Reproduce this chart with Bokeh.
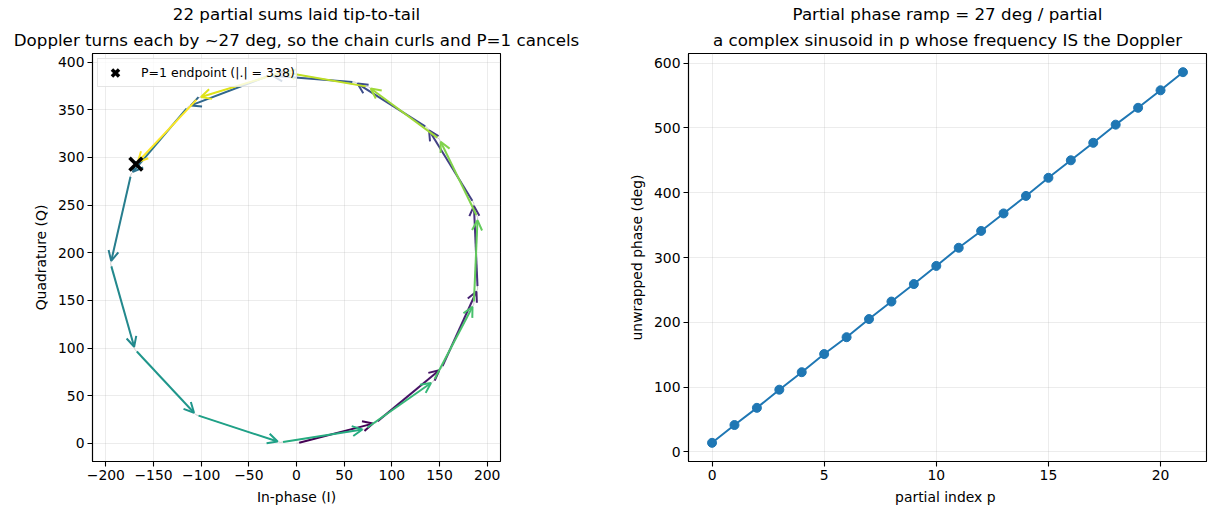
import math

from bokeh.embed import file_html
from bokeh.layouts import row
from bokeh.models import (Arrow, FixedTicker, Legend, LegendItem, OpenHead,
                          Range1d, Title)
from bokeh.palettes import Viridis256
from bokeh.plotting import figure
from bokeh.resources import INLINE

# ---- data -------------------------------------------------------------
# complex value of each partial sum (I, Q), p = 0..21
partial_i = [83.0, 69.0, 38.0, -4.0, -48.5, -76.0, -89.5, -85.5, -60.0, -21.5, 25.5,
             64.0, 88.5, 89.0, 71.5, 42.5, 4.0, -40.0, -74.5, -90.0, -88.5, -65.5]
partial_q = [21.5, 57.0, 83.5, 90.0, 79.0, 48.0, 7.0, -32.5, -71.0, -94.0, -90.0,
             -68.5, -29.0, 14.0, 50.0, 81.0, 91.0, 82.0, 55.0, 15.5, -27.0, -69.5]

# unwrapped phase of each partial (deg)
partial_index = list(range(22))
phase_deg = [14, 41.5, 68, 96, 123, 151, 177, 205, 232, 259, 287,
             315, 341, 368, 395, 423, 450, 477, 505, 531, 558, 586]

iq_xticks = [-200, -150, -100, -50, 0, 50, 100, 150, 200]
iq_yticks = [0, 50, 100, 150, 200, 250, 300, 350, 400]
ph_xticks = [0, 5, 10, 15, 20]
ph_yticks = [0, 100, 200, 300, 400, 500, 600]

FONT = "DejaVu Sans"
TICK_PX = "13.9px"
TITLE_PX = "16.7px"
BLUE = "#1f77b4"


def minus(v):
    return f"{v:g}".replace("-", "\u2212")


def style_axes(p, xticks, yticks):
    p.outline_line_color = "black"
    p.outline_line_width = 1.1
    p.background_fill_color = "white"
    p.border_fill_color = "white"
    for ax, ticks in ((p.xaxis[0], xticks), (p.yaxis[0], yticks)):
        ax.ticker = FixedTicker(ticks=ticks)
        ax.major_label_overrides = {t: minus(t) for t in ticks}
        ax.axis_line_color = "black"
        ax.axis_line_width = 1.1
        ax.major_tick_line_color = "black"
        ax.major_tick_line_width = 1.1
        ax.major_tick_out = 5
        ax.major_tick_in = 0
        ax.minor_tick_line_color = None
        ax.major_label_text_font = FONT
        ax.major_label_text_font_size = TICK_PX
        ax.major_label_text_color = "black"
        ax.major_label_standoff = 3
        ax.axis_label_text_font = FONT
        ax.axis_label_text_font_size = TICK_PX
        ax.axis_label_text_font_style = "normal"
        ax.axis_label_text_color = "black"
        ax.axis_label_standoff = 6
    p.xgrid.ticker = FixedTicker(ticks=xticks)
    p.ygrid.ticker = FixedTicker(ticks=yticks)
    p.grid.grid_line_color = "#b0b0b0"
    p.grid.grid_line_alpha = 0.3
    p.grid.grid_line_width = 0.8


def add_titles(p, lines):
    # the first title added sits closest to the frame
    for k, txt in enumerate(reversed(lines)):
        p.add_layout(Title(text=txt, align="center", text_font=FONT,
                           text_font_size=TITLE_PX, text_font_style="normal",
                           text_color="black", standoff=8 if k == 0 else 0), "above")


# ---- left: phasor chain ----------------------------------------------
left = figure(width=600, height=515, x_range=Range1d(-214, 214), y_range=Range1d(-19, 409),
              output_backend="svg", toolbar_location=None,
              min_border_left=92, min_border_right=100, min_border_top=53, min_border_bottom=54)
style_axes(left, iq_xticks, iq_yticks)
left.xaxis.axis_label = "In-phase (I)"
left.yaxis.axis_label = "Quadrature (Q)"
add_titles(left, ["22 partial sums laid tip-to-tail",
                  "Doppler turns each by ~27 deg, so the chain curls and P=1 cancels"])

chain_i = [0.0]
chain_q = [0.0]
for di, dq in zip(partial_i, partial_q):
    chain_i.append(chain_i[-1] + di)
    chain_q.append(chain_q[-1] + dq)

left.line(chain_i, chain_q, line_color="#cccccc", line_width=1)

n = len(partial_i)
px_per_unit = 408 / 428.0
shrink = 2.8 / px_per_unit
for k in range(n):
    color = Viridis256[min(int(k / (n - 1) * 256), 255)]
    x0, y0 = chain_i[k], chain_q[k]
    x1, y1 = chain_i[k + 1], chain_q[k + 1]
    L = math.hypot(x1 - x0, y1 - y0)
    ux, uy = (x1 - x0) / L, (y1 - y0) / L
    left.add_layout(Arrow(
        x_start=x0 + ux * shrink, y_start=y0 + uy * shrink,
        x_end=x1 - ux * shrink, y_end=y1 - uy * shrink,
        line_color=color, line_width=2,
        end=OpenHead(size=10, line_color=color, line_width=2)))

end_i, end_q = chain_i[-1], chain_q[-1]
mag = math.hypot(end_i, end_q)
endpoint = left.scatter([end_i], [end_q], marker="x", size=18, line_color="black",
                        line_width=3.5, level="overlay")
legend = Legend(items=[LegendItem(label=f"P=1 endpoint (|.| = {mag:.0f})", renderers=[endpoint])],
                location="top_left", margin=5, padding=1, spacing=0,
                glyph_width=32, glyph_height=25, label_standoff=10,
                label_text_font=FONT, label_text_font_size="12.5px",
                label_text_color="black",
                border_line_color="#cccccc", border_line_width=1,
                background_fill_color="white", background_fill_alpha=0.8)
left.add_layout(legend)

# ---- right: phase ramp -------------------------------------------------
right = figure(width=616, height=515, x_range=Range1d(-1.05, 22.05), y_range=Range1d(-14.8, 614.8),
               output_backend="svg", toolbar_location=None,
               min_border_left=88, min_border_right=10, min_border_top=53, min_border_bottom=54)
style_axes(right, ph_xticks, ph_yticks)
right.xaxis.axis_label = "partial index  p"
right.yaxis.axis_label = "unwrapped phase (deg)"
add_titles(right, ["Partial phase ramp = 27 deg / partial",
                   "a complex sinusoid in p whose frequency IS the Doppler"])
right.line(partial_index, phase_deg, line_color=BLUE, line_width=2)
right.scatter(partial_index, phase_deg, size=9, fill_color=BLUE, line_color=BLUE)

page = row(left, right)
open("out.html", "w").write(file_html(page, INLINE))
